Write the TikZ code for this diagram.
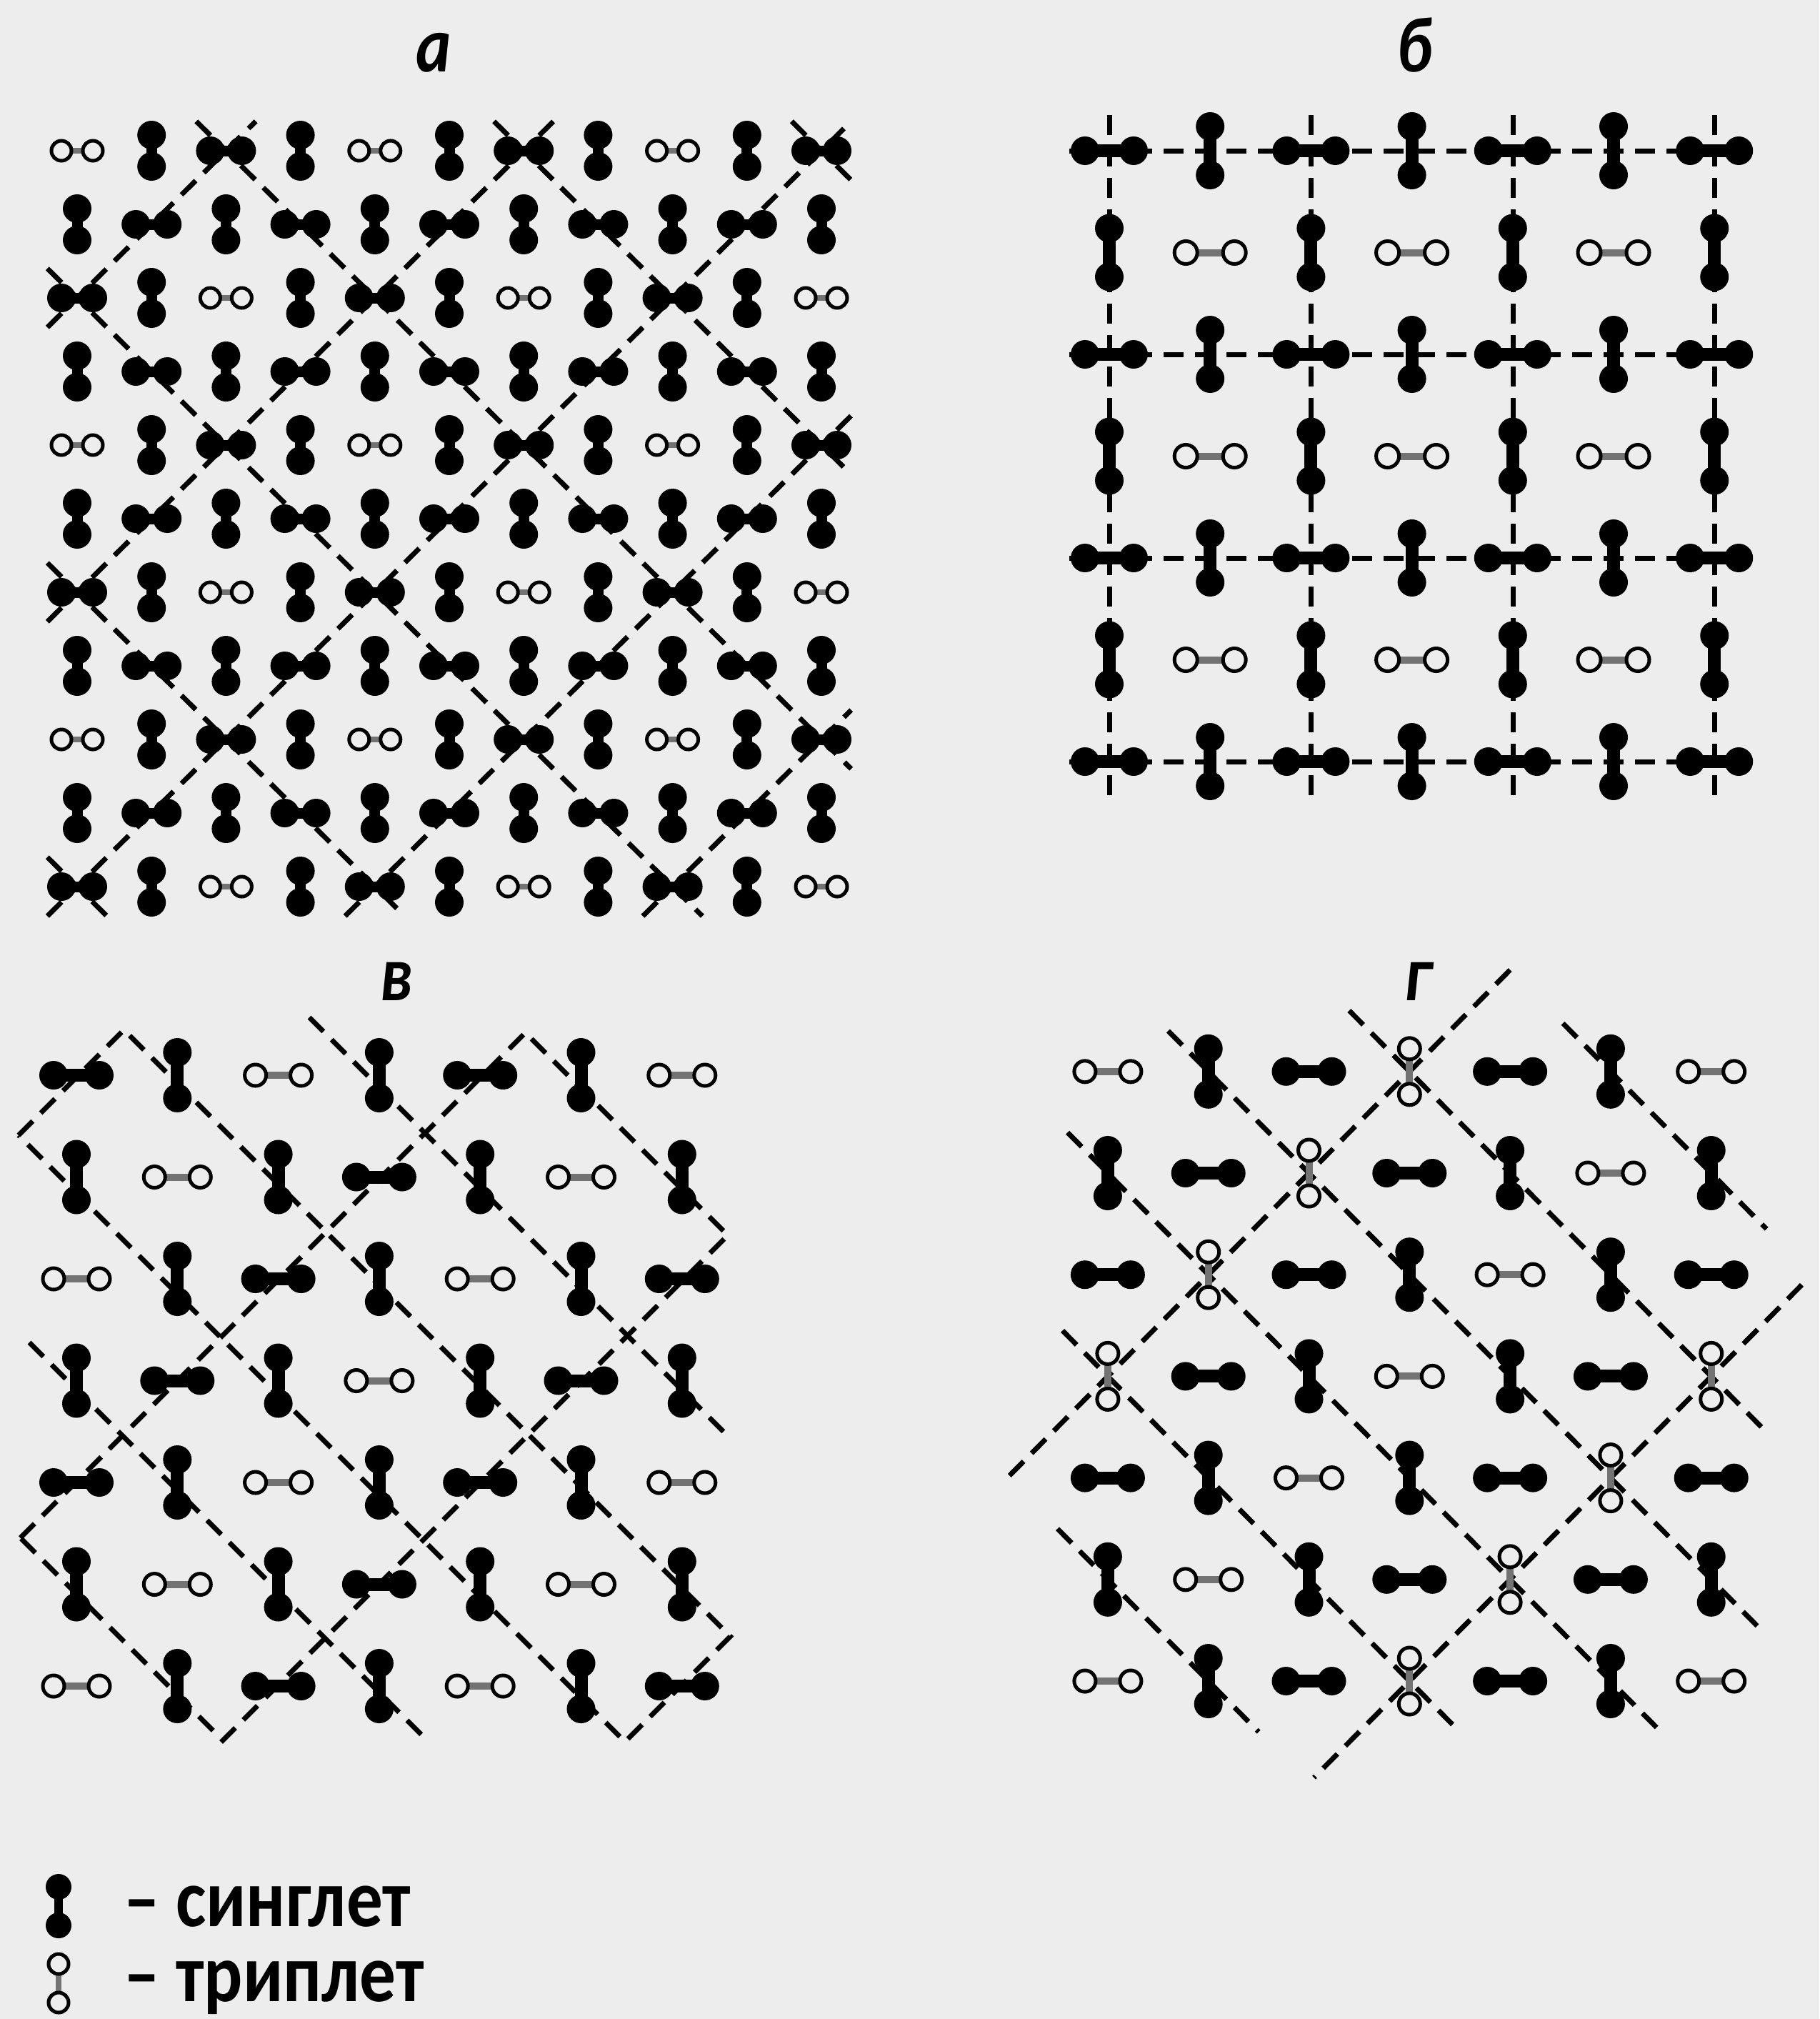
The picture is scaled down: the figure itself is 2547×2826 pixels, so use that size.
\documentclass[tikz,border=0pt]{standalone}
\usepackage{fontspec}
\setmainfont{Carlito}
\usepackage{graphicx}
\definecolor{bg}{RGB}{237,237,237}
\definecolor{tgray}{RGB}{115,115,115}
\tikzset{
  sbar/.style={line width=\sbw, black},
  tbar/.style={line width=\tbw, tgray},
  tcirc/.style={line width=1pt, black, fill=bg},
  dline/.style={line width=1.4pt, black, dash pattern=on 5.6pt off 3.2pt},
  ttl/.style={anchor=base, inner sep=0pt, font=\bfseries\itshape\fontsize{22}{26}\selectfont},
  lgd/.style={anchor=base west, inner sep=0pt, font=\bfseries\fontsize{23}{26}\selectfont},
}
\newcommand\dimSH[2]{\begin{scope}[shift={(#1,#2)}]\draw[sbar] (-\hd,0)--(\hd,0);\fill[black] (-\hd,0) circle[radius=\sr] (\hd,0) circle[radius=\sr];\end{scope}}
\newcommand\dimSV[2]{\begin{scope}[shift={(#1,#2)}]\draw[sbar] (0,-\hd)--(0,\hd);\fill[black] (0,-\hd) circle[radius=\sr] (0,\hd) circle[radius=\sr];\end{scope}}
\newcommand\dimTH[2]{\begin{scope}[shift={(#1,#2)}]\draw[tbar] (-\hd,0)--(\hd,0);\draw[tcirc] (-\hd,0) circle[radius=\tr] (\hd,0) circle[radius=\tr];\end{scope}}
\newcommand\dimTV[2]{\begin{scope}[shift={(#1,#2)}]\draw[tbar] (0,-\hd)--(0,\hd);\draw[tcirc] (0,-\hd) circle[radius=\tr] (0,\hd) circle[radius=\tr];\end{scope}}
\begin{document}
\begin{tikzpicture}[x=0.2pt,y=-0.2pt]
\useasboundingbox (0,0) rectangle (2547,2826);
\fill[bg] (0,0) rectangle (2547,2826);

% ---------------- panel a ----------------
\begin{scope}[shift={(3.8,108)},x=20.84pt,y=-20.6pt]
\foreach \xa/\ya/\xb/\yb in {0.6/3.4/3.4/0.6, 0.6/7.4/7.4/0.6, 0.6/11.4/11.4/0.6,
  4.6/11.4/11.4/4.6, 8.6/11.4/11.4/8.6, 0.6/10.6/1.4/11.4, 0.6/6.6/5.4/11.4,
  0.6/2.6/9.4/11.4, 2.6/0.6/11.4/9.4, 6.6/0.6/11.4/5.4, 10.6/0.6/11.4/1.4}
  \draw[dline] (\xa,\ya) -- (\xb,\yb);
\end{scope}
\begin{scope}
\def\hd{22}\def\sr{20}\def\tr{14}\def\sbw{3pt}\def\tbw{1.5pt}
\foreach \row [count=\ri] in {
 {TH,SV,SH,SV,TH,SV,SH,SV,TH,SV,SH},
 {SV,SH,SV,SH,SV,SH,SV,SH,SV,SH,SV},
 {SH,SV,TH,SV,SH,SV,TH,SV,SH,SV,TH},
 {SV,SH,SV,SH,SV,SH,SV,SH,SV,SH,SV},
 {TH,SV,SH,SV,TH,SV,SH,SV,TH,SV,SH},
 {SV,SH,SV,SH,SV,SH,SV,SH,SV,SH,SV},
 {SH,SV,TH,SV,SH,SV,TH,SV,SH,SV,TH},
 {SV,SH,SV,SH,SV,SH,SV,SH,SV,SH,SV},
 {TH,SV,SH,SV,TH,SV,SH,SV,TH,SV,SH},
 {SV,SH,SV,SH,SV,SH,SV,SH,SV,SH,SV},
 {SH,SV,TH,SV,SH,SV,TH,SV,SH,SV,TH}}{
  \foreach \ty [count=\ci] in \row {
    \pgfmathsetmacro\px{108+104.2*(\ci-1)}
    \pgfmathsetmacro\py{211+103*(\ri-1)}
    \csname dim\ty\endcsname{\px}{\py}
  }
}
\end{scope}
\node[ttl] (ta) at (607,100) {\scalebox{0.85}[1]{а}};

% ---------------- panel b ----------------
\foreach \xx in {1553,1835,2118,2400} \draw[dline] (\xx,161) -- (\xx,1116);
\foreach \yy in {211,496,781,1066} \draw[dline] (1497,\yy) -- (2456,\yy);
\begin{scope}
\def\hd{34}\def\sr{20}\def\tr{16}\def\sbw{3.6pt}\def\tbw{2pt}
\foreach \row [count=\ri] in {
 {SH,SV,SH,SV,SH,SV,SH},
 {SV,TH,SV,TH,SV,TH,SV},
 {SH,SV,SH,SV,SH,SV,SH},
 {SV,TH,SV,TH,SV,TH,SV},
 {SH,SV,SH,SV,SH,SV,SH},
 {SV,TH,SV,TH,SV,TH,SV},
 {SH,SV,SH,SV,SH,SV,SH}}{
  \foreach \ty [count=\ci] in \row {
    \pgfmathsetmacro\px{1553+141.2*(\ci-1)}
    \pgfmathsetmacro\py{211+142.5*(\ri-1)}
    \csname dim\ty\endcsname{\px}{\py}
  }
}
\end{scope}
\node[ttl] (tb) at (1980,100) {\scalebox{0.85}[1]{б}};

% ---------------- panel v ----------------
\draw[dline] (26,1589) -- (173.5,1441.5) -- (1022.5,2290.5) -- (875,2438) -- cycle;
\draw[dline] (28.5,2152.5) -- (735.5,1445.5) -- (1019,1729) -- (312,2436) -- cycle;
\draw[dline] (433,1424) -- (1014,2005);
\draw[dline] (41,1879) -- (598,2436);
\begin{scope}
\def\hd{32}\def\sr{20}\def\tr{15}\def\sbw{3.6pt}\def\tbw{2pt}
\foreach \row [count=\ri] in {
 {SH,SV,TH,SV,SH,SV,TH},
 {SV,TH,SV,SH,SV,TH,SV},
 {TH,SV,SH,SV,TH,SV,SH},
 {SV,SH,SV,TH,SV,SH,SV},
 {SH,SV,TH,SV,SH,SV,TH},
 {SV,TH,SV,SH,SV,TH,SV},
 {TH,SV,SH,SV,TH,SV,SH}}{
  \foreach \ty [count=\ci] in \row {
    \pgfmathsetmacro\px{107+141.3*(\ci-1)}
    \pgfmathsetmacro\py{1505+142.5*(\ri-1)}
    \csname dim\ty\endcsname{\px}{\py}
  }
}
\end{scope}
\node[ttl] (tv) at (555,1400) {\scalebox{0.85}[1]{в}};

% ---------------- panel g ----------------
\begin{scope}[shift={(1410.1,1357.6)},x=28.16pt,y=-28.44pt]
\foreach \xa/\ya/\xb/\yb in {0.6/1.6/6.5/7.5, 1.6/0.6/7.5/6.5, 3.4/0.4/7.5/4.5,
  5.525/0.525/7.55/2.55, 0.55/3.55/4.5/7.5, 0.5/5.5/2.5/7.5,
  5.0/0.0/-0.05/5.05, 7.9/3.1/3.05/7.95}
  \draw[dline] (\xa,\ya) -- (\xb,\yb);
\end{scope}
\begin{scope}
\def\hd{32}\def\sr{20}\def\tr{15}\def\sbw{3.6pt}\def\tbw{2pt}
\foreach \row [count=\ri] in {
 {TH,SV,SH,TV,SH,SV,TH},
 {SV,SH,TV,SH,SV,TH,SV},
 {SH,TV,SH,SV,TH,SV,SH},
 {TV,SH,SV,TH,SV,SH,TV},
 {SH,SV,TH,SV,SH,TV,SH},
 {SV,TH,SV,SH,TV,SH,SV},
 {TH,SV,SH,TV,SH,SV,TH}}{
  \foreach \ty [count=\ci] in \row {
    \pgfmathsetmacro\px{1410.1+140.8*\ci}
    \pgfmathsetmacro\py{1357.6+142.2*\ri}
    \csname dim\ty\endcsname{\px}{\py}
  }
}
\end{scope}
\node[ttl] (tg) at (1985,1400) {\scalebox{0.85}[1]{г}};

% ---------------- legend ----------------
\begin{scope}
\def\hd{27}\def\sr{18}\def\tr{14}\def\sbw{2.4pt}\def\tbw{1.5pt}
\dimSV{82}{2668}
\dimTV{82}{2776}
\end{scope}
\node[lgd] (ls) at (172,2696) {\scalebox{0.88}[1]{– синглет}};
\node[lgd] (lt) at (172,2801) {\scalebox{0.88}[1]{– триплет}};
\end{tikzpicture}
\end{document}
